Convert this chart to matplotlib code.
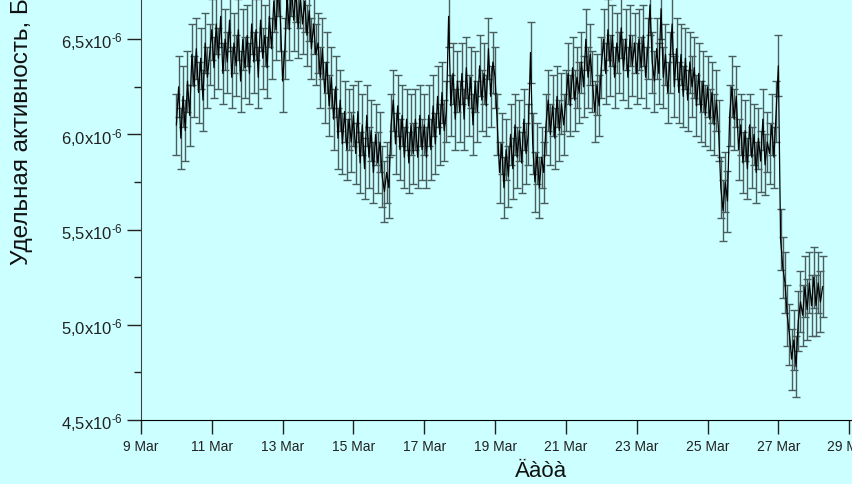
import numpy as np
import matplotlib
matplotlib.use("Agg")
import matplotlib.pyplot as plt
import matplotlib.dates as mdates
from matplotlib.ticker import MultipleLocator, FuncFormatter

# specific activity, units of 1e-6, one row per day (16 readings a day, every 90 min)
mar10 = [6.05, 6.25, 5.98, 6.20, 6.02, 6.28, 6.10, 6.42, 6.25, 6.45, 6.22, 6.40, 6.18, 6.48, 6.30, 6.42]
mar11 = [6.55, 6.35, 6.58, 6.40, 6.62, 6.32, 6.50, 6.38, 6.60, 6.30, 6.48, 6.36, 6.55, 6.28, 6.50, 6.35]
mar12 = [6.52, 6.32, 6.58, 6.38, 6.55, 6.30, 6.60, 6.40, 6.52, 6.35, 6.62, 6.45, 6.70, 6.55, 6.78, 6.60]
mar13 = [6.28, 6.45, 6.72, 6.55, 6.78, 6.60, 6.75, 6.56, 6.72, 6.58, 6.70, 6.52, 6.65, 6.45, 6.58, 6.42]
mar14 = [6.48, 6.30, 6.45, 6.22, 6.38, 6.15, 6.30, 6.08, 6.25, 5.98, 6.18, 5.95, 6.12, 5.92, 6.08, 5.96]
mar15 = [6.10, 5.90, 6.12, 5.85, 6.05, 5.82, 6.10, 5.88, 6.02, 5.80, 6.00, 5.85, 5.96, 5.78, 5.70, 5.80]
mar16 = [5.72, 6.05, 6.18, 5.95, 6.15, 5.92, 6.10, 5.88, 6.08, 5.85, 6.05, 5.90, 6.08, 5.88, 6.10, 5.92]
mar17 = [6.05, 5.88, 6.10, 5.92, 6.15, 5.95, 6.20, 6.00, 6.22, 6.02, 6.12, 6.62, 6.15, 6.32, 6.08, 6.28]
mar18 = [6.12, 6.32, 6.08, 6.35, 6.15, 6.30, 6.05, 6.28, 6.12, 6.36, 6.18, 6.32, 6.15, 6.45, 6.20, 6.38]
mar19 = [6.30, 6.05, 5.80, 5.95, 5.72, 5.92, 5.78, 6.00, 5.82, 6.05, 5.88, 6.02, 5.85, 6.08, 5.90, 6.00]
mar20 = [6.43, 5.95, 5.75, 5.90, 5.72, 5.88, 5.80, 6.05, 6.18, 6.00, 6.15, 5.98, 6.20, 6.02, 6.16, 6.05]
mar21 = [6.18, 6.32, 6.15, 6.35, 6.18, 6.30, 6.22, 6.38, 6.25, 6.50, 6.30, 6.42, 6.28, 6.12, 6.26, 6.15]
mar22 = [6.35, 6.50, 6.32, 6.55, 6.36, 6.52, 6.30, 6.48, 6.38, 6.56, 6.34, 6.50, 6.30, 6.52, 6.36, 6.48]
mar23 = [6.32, 6.50, 6.35, 6.52, 6.30, 6.45, 6.68, 6.38, 6.28, 6.45, 6.32, 6.66, 6.30, 6.42, 6.22, 6.38]
mar24 = [6.58, 6.25, 6.45, 6.22, 6.42, 6.20, 6.40, 6.18, 6.38, 6.25, 6.35, 6.15, 6.32, 6.12, 6.28, 6.10]
mar25 = [6.25, 6.08, 6.22, 6.05, 6.18, 6.02, 5.72, 5.60, 5.75, 5.65, 6.10, 6.25, 6.08, 6.20, 5.92, 6.05]
mar26 = [5.85, 6.02, 5.82, 6.05, 5.88, 6.00, 5.80, 5.98, 5.86, 6.08, 5.84, 5.96, 5.90, 6.05, 5.88, 6.12]
mar27 = [6.36, 5.45, 5.30, 5.22, 5.05, 4.95, 4.82, 4.92, 4.78, 5.02, 5.12, 5.05, 5.20, 5.08, 5.22, 5.10]
mar28 = [5.25, 5.10, 5.22, 5.12, 5.20]

err = 0.16  # units of 1e-6
ylabel = "Удельная активность, Бк/кг"
xlabel = "Äàòà"

vals = np.array(mar10 + mar11 + mar12 + mar13 + mar14 + mar15 + mar16 + mar17 + mar18
                + mar19 + mar20 + mar21 + mar22 + mar23 + mar24 + mar25 + mar26 + mar27 + mar28) * 1e-6
times = np.datetime64("2011-03-10T00:00") + np.arange(len(vals)) * np.timedelta64(90, "m")
times = times.astype("datetime64[s]").astype(object)

plt.rcParams["font.family"] = ["Liberation Sans", "DejaVu Sans"]
plt.rcParams["mathtext.fontset"] = "custom"
plt.rcParams["mathtext.rm"] = "Liberation Sans"
plt.rcParams["mathtext.it"] = "Liberation Sans:italic"
plt.rcParams["mathtext.bf"] = "Liberation Sans:bold"

bg = "#ccffff"
fig = plt.figure(figsize=(8.52, 4.85), dpi=100, facecolor=bg)
# axes runs past the top and right edge of the picture, like the original
ax = fig.add_axes([141 / 852, 64 / 485, 779 / 852, 476 / 485], facecolor=bg)

ax.errorbar(times, vals, yerr=err * 1e-6, fmt="none", ecolor="#4a5e5e",
            elinewidth=1.0, capsize=2.8, capthick=1.0, zorder=2)
ax.plot(times, vals, color="black", lw=0.9, zorder=3)

ax.set_xlim(mdates.date2num(np.datetime64("2011-03-09")), mdates.date2num(np.datetime64("2011-03-31")))
ax.set_ylim(4.5e-6, 7.0e-6)

ax.xaxis.set_major_locator(mdates.DayLocator(bymonthday=range(1, 32, 2)))
ax.xaxis.set_major_formatter(FuncFormatter(lambda x, p: f"{mdates.num2date(x).day} Mar"))
ax.yaxis.set_major_locator(MultipleLocator(0.5e-6))
ax.yaxis.set_minor_locator(MultipleLocator(0.25e-6))
ax.yaxis.set_major_formatter(FuncFormatter(
    lambda v, p: f"{v * 1e6:.1f}".replace(".", ",") + "x10$^{\u20106}$"))

for s in ["top", "right"]:
    ax.spines[s].set_visible(False)
ax.spines["left"].set_color("#404040")
ax.spines["bottom"].set_color("black")
ax.tick_params(axis="x", length=10, width=1, pad=4, labelsize=10, colors="#222222")
ax.tick_params(axis="y", which="major", length=10, width=1, pad=3, labelsize=12, colors="#222222")
ax.tick_params(axis="y", which="minor", length=5, width=1, colors="#222222")

fig.text(22 / 852, 1 - 265 / 485, ylabel, rotation=90, ha="center", va="bottom",
         fontsize=17.5, color="#111111")
fig.text(541 / 852, 1 - 472 / 485, xlabel, ha="center", va="center",
         fontsize=16, color="#111111")

fig.savefig("out.png", dpi=100, facecolor=bg)
